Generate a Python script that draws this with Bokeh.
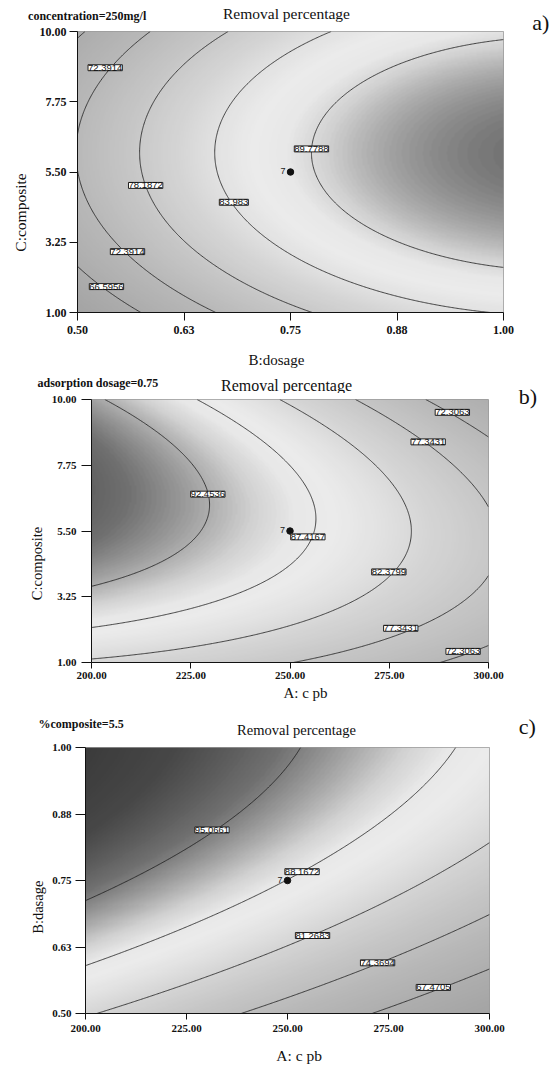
import numpy as np
from bokeh.plotting import figure
from bokeh.models import LinearColorMapper, Label, FixedTicker, Range1d
from bokeh.layouts import column, row
from bokeh.embed import file_html
from bokeh.resources import INLINE

# ================= data =================
# ---- a) concentration = 250 mg/l : x = B:dosage, y = C:composite
a_x_range = [0.50, 1.00]
a_y_range = [1.00, 10.00]
a_x_ticks = [0.50, 0.625, 0.75, 0.875, 1.00]
a_x_tick_labels = ["0.50", "0.63", "0.75", "0.88", "1.00"]
a_y_ticks = [1.00, 3.25, 5.50, 7.75, 10.00]
a_y_tick_labels = ["1.00", "3.25", "5.50", "7.75", "10.00"]
a_levels = [66.5956, 72.3914, 78.1872, 83.983, 89.7788]
# points (one list per level)
a_trace_x = [
    [0.507, 0.50, 0.50, 0.534, 0.572],
    [0.586, 0.533, 0.50, 0.50, 0.516, 0.559, 0.609, 0.664],
    [0.680, 0.609, 0.576, 0.572, 0.582, 0.609, 0.668, 0.7735],
    [0.801, 0.727, 0.6875, 0.666, 0.662, 0.668, 0.711, 0.789, 0.922, 0.973],
    [1.00, 0.879, 0.824, 0.789, 0.777, 0.781, 0.805, 0.844, 0.902, 1.00],
]
a_trace_y = [
    [10.0, 9.55, 2.39, 1.82, 1.0],
    [10.0, 8.82, 7.18, 5.37, 4.20, 2.94, 1.96, 1.0],
    [10.0, 8.56, 6.96, 6.11, 5.05, 3.77, 2.28, 1.0],
    [10.0, 9.10, 8.03, 6.96, 6.11, 5.26, 3.77, 2.28, 1.16, 1.0],
    [9.87, 8.83, 8.03, 7.07, 6.22, 5.15, 4.30, 3.56, 2.92, 2.71],
]
a_label_x = [0.5325, 0.580, 0.6835, 0.7746, 0.5587, 0.534]
a_label_y = [8.84, 5.07, 4.53, 6.24, 2.95, 1.83]
a_label_level = [72.3914, 78.1872, 83.983, 89.7788, 72.3914, 66.5956]
a_point = [0.75, 5.5]
a_point_label = "7"

# ---- b) adsorption dosage = 0.75 : x = A: c pb, y = C:composite
b_x_range = [200.0, 300.0]
b_y_range = [1.00, 10.00]
b_x_ticks = [200.0, 225.0, 250.0, 275.0, 300.0]
b_x_tick_labels = ["200.00", "225.00", "250.00", "275.00", "300.00"]
b_y_ticks = [1.00, 3.25, 5.50, 7.75, 10.00]
b_y_tick_labels = ["1.00", "3.25", "5.50", "7.75", "10.00"]
b_levels = [72.3063, 77.3431, 82.3799, 87.4167, 92.4536]
b_trace_x = [
    [285.85, 290.85, 300.0, 300.0, 293.55, 288.35],
    [266.2, 285.0, 294.7, 300.0, 300.0, 277.95, 264.95, 248.2],
    [247.35, 261.6, 271.65, 278.35, 280.45, 279.2, 269.15, 256.6, 239.8, 218.85, 200.0],
    [227.65, 239.8, 249.9, 254.9, 256.15, 254.05, 248.2, 235.6, 218.85, 200.0],
    [204.5, 223.05, 227.25, 229.35, 226.4, 221.35, 210.5, 200.0],
]
b_trace_y = [
    [10.0, 9.56, 8.65, 1.51, 1.37, 1.0],
    [9.96, 8.54, 7.29, 6.48, 3.74, 2.17, 1.57, 1.0],
    [9.96, 8.77, 7.39, 6.26, 5.57, 4.65, 3.29, 2.37, 1.68, 1.34, 1.23],
    [9.96, 8.77, 7.51, 6.37, 5.57, 4.77, 3.97, 3.17, 2.60, 2.26],
    [10.0, 8.31, 7.28, 6.20, 5.34, 4.65, 3.97, 3.65],
]
b_label_x = [229.3, 254.5, 274.9, 284.8, 277.9, 290.9, 293.6]
b_label_y = [6.76, 5.30, 4.10, 8.55, 2.17, 9.56, 1.38]
b_label_level = [92.4536, 87.4167, 82.3799, 77.3431, 77.3431, 72.3063, 72.3063]
b_point = [250.0, 5.5]
b_point_label = "7"

# ---- c) %composite = 5.5 : x = A: c pb, y = B:dasage
c_x_range = [200.0, 300.0]
c_y_range = [0.50, 1.00]
c_x_ticks = [200.0, 225.0, 250.0, 275.0, 300.0]
c_x_tick_labels = ["200.00", "225.00", "250.00", "275.00", "300.00"]
c_y_ticks = [0.50, 0.625, 0.75, 0.875, 1.00]
c_y_tick_labels = ["0.50", "0.63", "0.75", "0.88", "1.00"]
c_levels = [67.4705, 74.3694, 81.2683, 88.1672, 95.0661]
c_trace_x = [
    [300.0, 286.05, 272.85],
    [300.0, 272.0, 255.5, 241.45],
    [300.0, 280.25, 268.7, 255.9, 239.0, 222.45, 204.3],
    [291.4, 280.25, 267.9, 253.85, 239.0, 222.45, 200.0],
    [252.2, 243.95, 232.35, 218.35, 200.0],
]
c_trace_y = [
    [0.5835, 0.548, 0.5],
    [0.681, 0.595, 0.5515, 0.5],
    [0.8345, 0.727, 0.683, 0.647, 0.602, 0.558, 0.5],
    [1.0, 0.8965, 0.821, 0.768, 0.7145, 0.652, 0.588],
    [1.0, 0.915, 0.843, 0.777, 0.7145],
]
c_label_x = [231.3, 253.6, 256.2, 272.3, 286.1]
c_label_y = [0.845, 0.7666, 0.6466, 0.5953, 0.549]
c_label_level = [95.0661, 88.1672, 81.2683, 74.3694, 67.4705]
c_point = [250.0, 0.75]
c_point_label = "7"

# ================= shading (grey rendering of the response scale) =================
GRAY_Z = [55, 62, 67, 72, 77, 81, 84, 86.5, 88.5, 90.5, 93, 96, 100, 108]
GRAY_V = [158, 166, 174, 184, 198, 212, 226, 236, 232, 210, 165, 112, 72, 42]
_zz = np.linspace(55, 108, 256)
_gv = np.interp(_zz, GRAY_Z, GRAY_V)
palette = ["#%02x%02x%02x" % (int(g), int(g), int(g)) for g in _gv]
mapper = LinearColorMapper(palette=palette, low=55, high=108)

SERIF = "Liberation Serif"
SANS = "Liberation Sans"


def fit_surface(xr, yr, levels, tx, ty):
    xc, xh = (xr[0] + xr[1]) / 2, (xr[1] - xr[0]) / 2
    yc, yh = (yr[0] + yr[1]) / 2, (yr[1] - yr[0]) / 2
    rows, zs = [], []
    for lv, xs, ys in zip(levels, tx, ty):
        for x, y in zip(xs, ys):
            u, v = (x - xc) / xh, (y - yc) / yh
            rows.append([1, u, v, u * u, v * v, u * v])
            zs.append(lv)
    coef = np.linalg.lstsq(np.array(rows), np.array(zs), rcond=None)[0]
    gx = np.linspace(xr[0], xr[1], 330)
    gy = np.linspace(yr[0], yr[1], 250)
    U, V = np.meshgrid((gx - xc) / xh, (gy - yc) / yh)
    Z = coef[0] + coef[1] * U + coef[2] * V + coef[3] * U * U + coef[4] * V * V + coef[5] * U * V
    return gx, gy, Z


def no_align(p):
    try:
        p.frame_align = False
    except Exception:
        pass


def strip(w, h, texts):
    """A plain text area; x, y are px from its top-left corner (y = text baseline)."""
    s = figure(width=w, height=h, x_range=Range1d(0, w), y_range=Range1d(h, 0),
               output_backend="svg", toolbar_location=None, title=None,
               x_axis_location=None, y_axis_location=None, min_border=0,
               min_border_left=0, min_border_right=0, min_border_top=0, min_border_bottom=0)
    no_align(s)
    s.xgrid.visible = False
    s.ygrid.visible = False
    s.outline_line_color = None
    s.background_fill_color = "white"
    s.border_fill_color = "white"
    for t in texts:
        px = float(t["size"].replace("px", ""))
        angle = t.get("angle", 0)
        # labels are anchored on the middle of their text box
        y = t["y"] if angle else t["y"] - 0.34 * px
        s.add_layout(Label(x=t["x"], y=y, text=t["text"], text_font=SERIF,
                           text_font_size=t["size"],
                           text_font_style="bold" if t.get("bold") else "normal",
                           text_align=t.get("align", "left"),
                           text_baseline="middle",
                           angle=angle, angle_units="deg",
                           text_color="#111111"))
    return s


def make_plot(w, h, borders, xr, yr, xticks, xlabels, yticks, ylabels, levels, tx, ty,
              lab_x, lab_y, lab_lv, point, point_label, tick_size, xtick, ytick):
    left, right, top, bottom = borders
    p = figure(width=w, height=h, x_range=Range1d(*xr), y_range=Range1d(*yr),
               output_backend="svg", toolbar_location=None, title=None,
               min_border_left=left, min_border_right=right,
               min_border_top=top, min_border_bottom=bottom)
    no_align(p)
    p.grid.visible = False
    p.outline_line_color = "#9a9a9a"
    p.background_fill_color = "white"
    p.border_fill_color = "white"

    gx, gy, Z = fit_surface(xr, yr, levels, tx, ty)
    p.image(image=[Z], x=xr[0], y=yr[0], dw=xr[1] - xr[0], dh=yr[1] - yr[0], color_mapper=mapper)
    p.contour(gx, gy, Z, levels, line_color="#1a1a1a", line_width=0.8)

    p.scatter([point[0]], [point[1]], size=6.5, color="#111111")
    p.add_layout(Label(x=point[0], y=point[1], x_offset=-5, y_offset=1, text=point_label,
                       text_font=SANS, text_font_size="9px", text_align="right",
                       text_baseline="middle", text_color="#222222"))

    for x, y, lv in zip(lab_x, lab_y, lab_lv):
        p.add_layout(Label(x=x, y=y, text=str(lv), text_font=SANS, text_font_size="9.5px",
                           text_align="center", text_baseline="middle", text_color="#111111",
                           background_fill_color="white", border_line_color="#222222",
                           border_line_width=1))

    p.xaxis.ticker = FixedTicker(ticks=xticks)
    p.xaxis.major_label_overrides = {float(t): l for t, l in zip(xticks, xlabels)}
    p.yaxis.ticker = FixedTicker(ticks=yticks)
    p.yaxis.major_label_overrides = {float(t): l for t, l in zip(yticks, ylabels)}
    for ax in (p.xaxis[0], p.yaxis[0]):
        ax.major_label_text_font = SERIF
        ax.major_label_text_font_style = "bold"
        ax.major_label_text_font_size = tick_size
        ax.major_label_text_color = "#111111"
        ax.axis_line_color = "#111111"
        ax.major_tick_line_color = "#111111"
        ax.minor_tick_line_color = None
        ax.major_tick_in = 0
    p.xaxis.major_tick_out = xtick[0]
    p.xaxis.major_label_standoff = xtick[1]
    p.yaxis.major_tick_out = ytick[0]
    p.yaxis.major_label_standoff = ytick[1]
    return p


# ---------------- panel a (page y 0-372) ----------------
pa = make_plot(480, 317, (42, 12, 8, 28), a_x_range, a_y_range, a_x_ticks, a_x_tick_labels,
               a_y_ticks, a_y_tick_labels, a_levels, a_trace_x, a_trace_y,
               a_label_x, a_label_y, a_label_level, a_point, a_point_label,
               "12px", (8, 5), (8, 3))
top_a = strip(515, 23, [
    dict(x=27.6, y=19.8, text="concentration=250mg/l", size="12px", bold=True),
    dict(x=286, y=18.5, text="Removal percentage", size="15.5px", align="center"),
])
left_a = strip(35, 317, [
    dict(x=20, y=189, text="C:composite", size="15.5px", align="center", angle=90),
])
bottom_a = strip(515, 32, [
    dict(x=276, y=24.3, text="B:dosage", size="15px", align="center"),
])
right_a = strip(37, 372, [dict(x=16.7, y=29, text="a)", size="22px")])
block_a = row(column(top_a, row(left_a, pa), bottom_a), right_a)

# ---------------- panel b (page y 372-710) ----------------
pb = make_plot(469, 292, (45, 27, 6, 23), b_x_range, b_y_range, b_x_ticks, b_x_tick_labels,
               b_y_ticks, b_y_tick_labels, b_levels, b_trace_x, b_trace_y,
               b_label_x, b_label_y, b_label_level, b_point, b_point_label,
               "11px", (6, 3), (10, 5))
top_b = strip(515, 21, [
    dict(x=37, y=14.7, text="adsorption dosage=0.75", size="12px", bold=True),
    dict(x=286, y=18, text="Removal percentage", size="16px", align="center"),
])
left_b = strip(46, 292, [
    dict(x=36, y=170, text="C:composite", size="14.5px", align="center", angle=90),
])
bottom_b = strip(515, 25, [
    dict(x=305, y=12.3, text="A: c pb", size="15px", align="center"),
])
right_b = strip(37, 338, [dict(x=3.3, y=31.3, text="b)", size="22px")])
block_b = row(column(top_b, row(left_b, pb), bottom_b), right_b)

# ---------------- panel c (page y 710-1065) ----------------
pc = make_plot(466, 299, (36, 26, 8, 25), c_x_range, c_y_range, c_x_ticks, c_x_tick_labels,
               c_y_ticks, c_y_tick_labels, c_levels, c_trace_x, c_trace_y,
               c_label_x, c_label_y, c_label_level, c_point, c_point_label,
               "11px", (6, 5), (10, 4))
top_c = strip(515, 29, [
    dict(x=38, y=17.7, text="%composite=5.5", size="12px", bold=True),
    dict(x=296, y=24.3, text="Removal percentage", size="14.5px", align="center"),
])
left_c = strip(49, 299, [
    dict(x=37.6, y=167.7, text="B:dasage", size="14.5px", align="center", angle=90),
])
bottom_c = strip(515, 27, [
    dict(x=298.6, y=22.7, text="A: c pb", size="15.5px", align="center"),
])
right_c = strip(37, 355, [dict(x=3.3, y=23.3, text="c)", size="22px")])
block_c = row(column(top_c, row(left_c, pc), bottom_c), right_c)

layout = column(block_a, block_b, block_c)
open("out.html", "w").write(file_html(layout, INLINE))
